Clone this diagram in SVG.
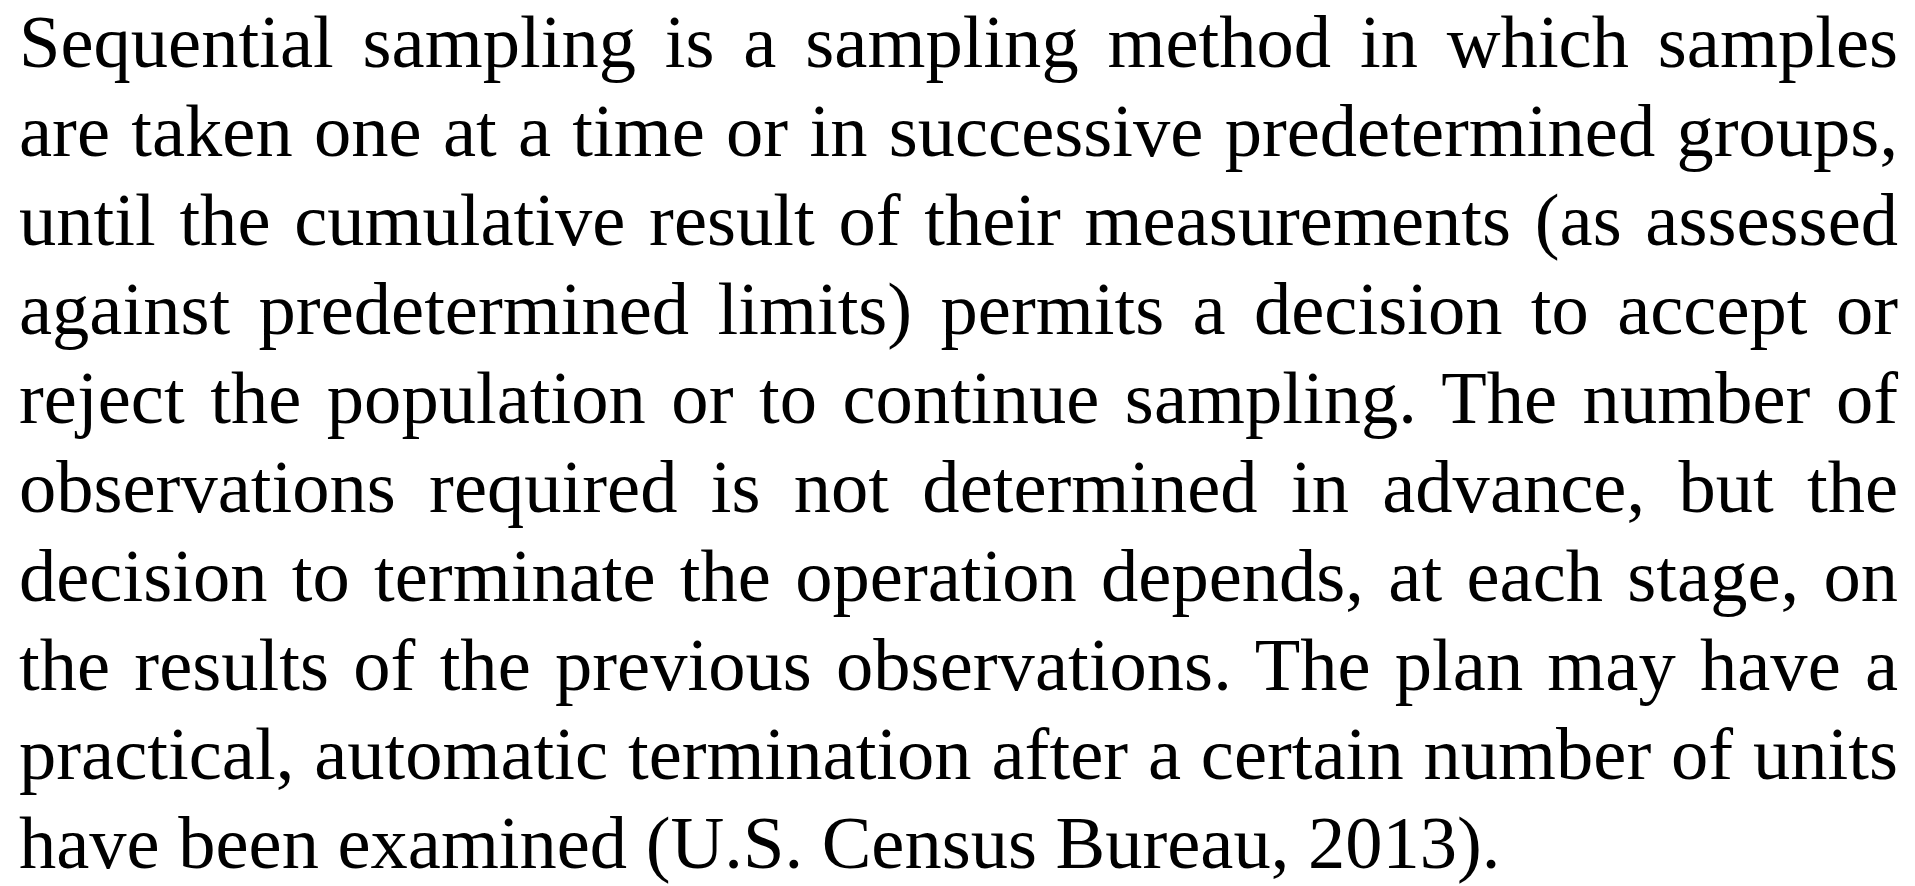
<svg xmlns="http://www.w3.org/2000/svg" width="1915" height="886" viewBox="0 0 1915 886">
  <style>
    .body { font-family: "Liberation Serif", "Times New Roman", serif; font-size: 74.5px; fill: #000000; }
  </style>
  <rect x="0" y="0" width="1915" height="886" fill="#ffffff"/>
  <!-- Justified paragraph: each full line is stretched to the column width -->
  <g id="paragraph" class="body">
    <text x="19" y="67" word-spacing="10.2" textLength="1879" lengthAdjust="spacing">Sequential sampling is a sampling method in which samples</text>
    <text x="19" y="156" word-spacing="2.6" textLength="1879" lengthAdjust="spacing">are taken one at a time or in successive predetermined groups,</text>
    <text x="19" y="245" word-spacing="5.0" textLength="1879" lengthAdjust="spacing">until the cumulative result of their measurements (as assessed</text>
    <text x="19" y="334" word-spacing="9.7" textLength="1879" lengthAdjust="spacing">against predetermined limits) permits a decision to accept or</text>
    <text x="19" y="423" word-spacing="6.8" textLength="1879" lengthAdjust="spacing">reject the population or to continue sampling. The number of</text>
    <text x="19" y="512" word-spacing="14.7" textLength="1879" lengthAdjust="spacing">observations required is not determined in advance, but the</text>
    <text x="19" y="601" word-spacing="5.7" textLength="1879" lengthAdjust="spacing">decision to terminate the operation depends, at each stage, on</text>
    <text x="19" y="690" word-spacing="5.5" textLength="1879" lengthAdjust="spacing">the results of the previous observations. The plan may have a</text>
    <text x="19" y="779" word-spacing="1.2" textLength="1879" lengthAdjust="spacing">practical, automatic termination after a certain number of units</text>
    <text x="19" y="868">have been examined (U.S. Census Bureau, 2013).</text>
  </g>
</svg>
